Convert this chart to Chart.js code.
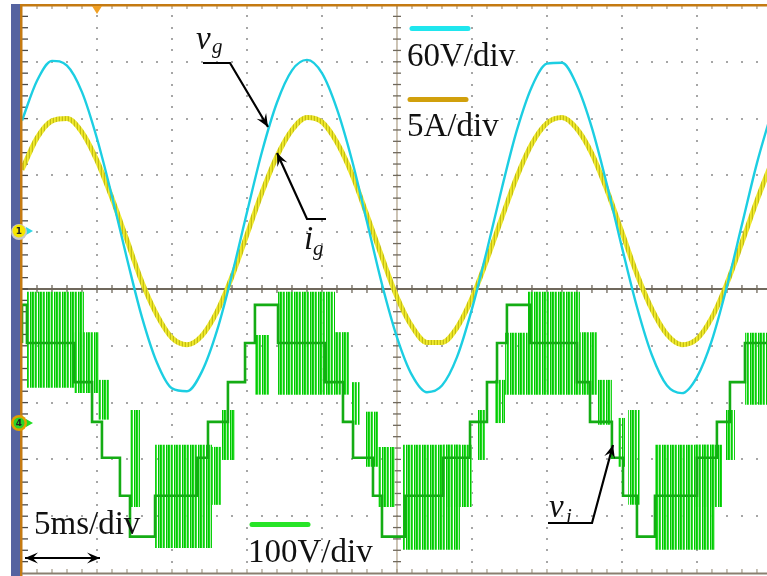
<!DOCTYPE html>
<html><head><meta charset="utf-8">
<script src="https://cdn.jsdelivr.net/npm/chart.js@4.4.1/dist/chart.umd.min.js"></script>
<style>
html,body{margin:0;padding:0;background:#fff;}
#wrap{position:relative;width:767px;height:576px;overflow:hidden;background:#fff;}
canvas{position:absolute;left:0;top:0;}
.lbl{position:absolute;font-family:"Liberation Serif","DejaVu Serif",serif;font-size:33px;line-height:33px;color:#111;white-space:nowrap;z-index:2;}
.m{font-style:italic;}
.sub{position:absolute;font-family:"Liberation Serif","DejaVu Serif",serif;font-style:italic;font-size:21px;line-height:21px;color:#111;z-index:2;}
.mk{position:absolute;font-family:"DejaVu Sans",sans-serif;font-size:9px;line-height:10px;font-weight:bold;color:#222;z-index:2;width:10px;text-align:center;}
</style></head><body>
<div id="wrap">
<canvas id="c" width="767" height="576"></canvas>
<div class="lbl" style="left:407px;top:39px">60V/div</div>
<div class="lbl" style="left:407px;top:109px">5A/div</div>
<div class="lbl" style="left:34px;top:507px">5ms/div</div>
<div class="lbl" style="left:248px;top:535px">100V/div</div>
<div class="lbl m" style="left:196px;top:22px">v</div><div class="sub" style="left:212px;top:36px">g</div>
<div class="lbl m" style="left:304px;top:222px">i</div><div class="sub" style="left:313px;top:238px">g</div>
<div class="lbl m" style="left:549px;top:490px">v</div><div class="sub" style="left:566px;top:506px">i</div>
<div class="mk" style="left:14px;top:226px">1</div>
<div class="mk" style="left:14px;top:418px">4</div>
</div>
<script>
// ---- data ----
// time axis (ms), 5 ms/div
const timeMs = [0,1,2,3,4,5,6,7,8,9,10,11,12,13,14,15,16,17,18,19,20,21,22,23,24,25,26,27,28,29,30,31,32,33,34,35,36,37,38,39,40,41,42,43,44,45,46,47,48,49,50];
// grid voltage v_g (V), 60 V/div
const gridVoltage = [112,154,175,170,142,93,32,-34,-96,-144,-171,-174,-153,-110,-51,15,79,131,165,176,162,124,70,5,-61,-117,-157,-175,-168,-138,-87,-25,41,102,148,172,173,149,104,44,-22,-85,-136,-168,-176,-159,-120,-63,2,67,122];
// grid current i_g (A), 5 A/div
const gridCurrent = [5.4,8.2,9.7,9.9,8.7,6.2,2.9,-0.8,-4.5,-7.4,-9.4,-10.0,-9.2,-7.1,-4.0,-0.3,3.4,6.6,8.9,10.0,9.6,7.8,5.0,1.4,-2.3,-5.8,-8.4,-9.8,-9.8,-8.5,-5.9,-2.5,1.2,4.8,7.7,9.5,10.0,9.0,6.8,3.6,-0.1,-3.8,-6.9,-9.1,-10.0,-9.5,-7.6,-4.6,-1.0,2.7,6.1];
// inverter output v_i (V), 100 V/div : voltage levels -3..+3
const inverterLevels = [-202,-130,-63,0,70,139,206];
const stepTimes = [0,0.33,3.47,4.67,5.33,6.53,7.2,8.87,11.67,12.4,13.73,14.87,15.53,17.07,20.2,21.4,22.07,23.4,24.0,25.53,28.07,29.87,31.0,31.67,32.33,33.87,37.0,37.87,39.33,40.07,41.0,42.2,45.0,46.33,47.2,48.2,48.73];
const stepLevel = [2,3,2,1,0,-1,-2,-3,-2,-1,0,1,2,3,2,1,0,-1,-2,-3,-2,-1,0,1,2,3,2,1,0,-1,-2,-3,-2,-1,0,1,2];
const traceEnd = 49.67;
// PWM switching envelopes (ms, V)
const pwmStart = [0.33,3.47,5.07,7.2,8.87,12.33,13.33,15.53,17.07,20.87,22.0,22.87,23.73,25.4,28.07,30.33,31.53,32.2,33.73,37.2,38.33,39.73,40.4,42.2,44.87,46.87,48.2];
const pwmEnd   = [4.13,5.13,5.87,7.87,12.67,13.33,14.2,16.53,20.87,21.87,22.53,23.73,24.87,29.2,30.0,30.87,32.2,33.73,37.2,38.33,39.33,40.2,41.2,46.2,46.67,47.53,49.67];
const pwmHigh  = [229,158,74,21,-40,-44,21,153,229,158,70,18,-44,-40,-40,21,74,157,229,158,74,7,21,-40,-40,21,157];
const pwmLow   = [60,51,4,-150,-222,-146,-67,48,48,48,-5,-79,-150,-225,-150,-67,-2,48,48,48,-5,-79,-146,-225,-150,-67,30];

// ---- build ----
function stripePattern(cols){
  const c=document.createElement('canvas'); c.width=cols.length; c.height=1;
  const g=c.getContext('2d');
  cols.forEach((col,i)=>{ if(col){g.fillStyle=col; g.fillRect(i,0,1,1);} });
  return document.getElementById('c').getContext('2d').createPattern(c,'repeat');
}
const pwmPattern = stripePattern(['rgb(0,204,0)','rgb(30,214,30)','rgba(150,236,150,0.8)','rgb(10,208,10)','rgb(60,222,60)',null,'rgb(0,198,0)','rgba(100,228,100,0.9)']);
const yellowPattern = stripePattern(['#f0ea30','#e6e022','#c4be14']);

const vgData = timeMs.map((t,i)=>({x:t,y:gridVoltage[i]}));
const igData = timeMs.map((t,i)=>({x:t,y:gridCurrent[i]}));
const viData = stepTimes.map((t,i)=>({x:t,y:inverterLevels[stepLevel[i]+3]}));
viData.push({x:traceEnd,y:inverterLevels[stepLevel[stepLevel.length-1]+3]});

const datasets = [
  {data:vgData,yAxisID:'yV',borderColor:'rgb(28,206,226)',borderWidth:2.4,pointRadius:0,cubicInterpolationMode:'monotone',order:0},
  {data:igData,yAxisID:'yI',borderColor:yellowPattern,borderWidth:5,pointRadius:0,cubicInterpolationMode:'monotone',order:1},
  {data:viData,yAxisID:'yVi',borderColor:'rgb(20,172,20)',borderWidth:2.6,pointRadius:0,stepped:'after',order:2}
];
pwmStart.forEach((s,i)=>{
  datasets.push({data:[{x:s,y:pwmHigh[i]},{x:pwmEnd[i],y:pwmHigh[i]}],yAxisID:'yVi',
    fill:{value:pwmLow[i]},backgroundColor:pwmPattern,borderWidth:0,pointRadius:0,order:3});
});

function arrow(ctx,pts,both){
  ctx.beginPath(); ctx.moveTo(pts[0][0],pts[0][1]);
  for(let i=1;i<pts.length;i++) ctx.lineTo(pts[i][0],pts[i][1]);
  ctx.stroke();
  const heads=[[pts[pts.length-2],pts[pts.length-1]]];
  if(both) heads.push([pts[1],pts[0]]);
  heads.forEach(([a,b])=>{
    const ang=Math.atan2(b[1]-a[1],b[0]-a[0]), L=13, W=5.5;
    ctx.beginPath(); ctx.moveTo(b[0],b[1]);
    ctx.lineTo(b[0]-L*Math.cos(ang)+W*Math.sin(ang), b[1]-L*Math.sin(ang)-W*Math.cos(ang));
    ctx.lineTo(b[0]-0.6*L*Math.cos(ang), b[1]-0.6*L*Math.sin(ang));
    ctx.lineTo(b[0]-L*Math.cos(ang)-W*Math.sin(ang), b[1]-L*Math.sin(ang)+W*Math.cos(ang));
    ctx.closePath(); ctx.fill();
  });
}

const scopePlugin = {
  id:'scope',
  beforeDatasetsDraw(chart){
    const ctx=chart.ctx, a=chart.chartArea, xs=chart.scales.x, yd=chart.scales.yDiv;
    ctx.save();
    // dotted graticule
    ctx.fillStyle='#a6a6a6';
    for(let i=1;i<10;i++){ if(i===5) continue; const px=xs.getPixelForValue(i*5);
      for(let k=-24;k<=24;k++){ const py=yd.getPixelForValue(k/5); ctx.fillRect(Math.round(px)-1,Math.round(py)-1,2,2);} }
    for(let j=-4;j<=4;j++){ if(j===0) continue; const py=yd.getPixelForValue(j);
      for(let k=1;k<50;k++){ const px=xs.getPixelForValue(k); ctx.fillRect(Math.round(px)-1,Math.round(py)-1,2,2);} }
    // centre axes
    const cy=yd.getPixelForValue(0), cx=xs.getPixelForValue(25);
    ctx.strokeStyle='#bdb19c'; ctx.lineWidth=1.5;
    ctx.beginPath(); ctx.moveTo(cx,a.top); ctx.lineTo(cx,a.bottom); ctx.stroke();
    ctx.strokeStyle='#6f685c'; ctx.lineWidth=2;
    ctx.beginPath(); ctx.moveTo(a.left,cy); ctx.lineTo(a.right,cy); ctx.stroke();
    ctx.strokeStyle='#6f685c'; ctx.lineWidth=1.3;
    for(let k=1;k<50;k++){ const px=xs.getPixelForValue(k); ctx.beginPath(); ctx.moveTo(px,cy-4); ctx.lineTo(px,cy+4); ctx.stroke(); }
    for(let k=-24;k<=24;k++){ const py=yd.getPixelForValue(k/5); ctx.beginPath(); ctx.moveTo(cx-4,py); ctx.lineTo(cx+4,py); ctx.stroke(); }
    // top / bottom ticks
    ctx.strokeStyle='#a49a86'; ctx.lineWidth=1.2;
    for(let k=1;k<50;k++){ const px=xs.getPixelForValue(k);
      ctx.beginPath(); ctx.moveTo(px,a.top); ctx.lineTo(px,a.top+4); ctx.stroke();
      ctx.beginPath(); ctx.moveTo(px,a.bottom); ctx.lineTo(px,a.bottom-4); ctx.stroke(); }
    // left ticks
    ctx.strokeStyle='#4a4a4a'; ctx.lineWidth=1.3;
    for(let k=-24;k<=24;k++){ const py=yd.getPixelForValue(k/5); ctx.beginPath(); ctx.moveTo(a.left,py); ctx.lineTo(a.left+6,py); ctx.stroke(); }
    ctx.restore();
  },
  afterDatasetsDraw(chart){
    const ctx=chart.ctx, a=chart.chartArea, xs=chart.scales.x;
    ctx.save();
    // frame
    ctx.fillStyle='#5563a0'; ctx.fillRect(11,4,9,576);
    ctx.fillStyle='#c47a12'; ctx.fillRect(20,4,767,2.5); ctx.fillRect(20,4,2.5,576);
    ctx.fillStyle='#8a8070'; ctx.fillRect(22,a.bottom-0.5,767,2);
    // trigger marker
    const tx=xs.getPixelForValue(5);
    ctx.fillStyle='#f0a024'; ctx.beginPath(); ctx.moveTo(tx-5,6); ctx.lineTo(tx+5,6); ctx.lineTo(tx,14); ctx.closePath(); ctx.fill();
    // channel markers
    ctx.fillStyle='#2fd6e4'; ctx.beginPath(); ctx.moveTo(26,227); ctx.lineTo(33,231); ctx.lineTo(26,235); ctx.closePath(); ctx.fill();
    ctx.fillStyle='#c8c8c8'; ctx.beginPath(); ctx.arc(19,232,8,0,Math.PI*2); ctx.fill();
    ctx.fillStyle='#f6e600'; ctx.beginPath(); ctx.arc(19,231,6.5,0,Math.PI*2); ctx.fill();
    ctx.fillStyle='#22dd22'; ctx.beginPath(); ctx.moveTo(26,419); ctx.lineTo(33,423); ctx.lineTo(26,427); ctx.closePath(); ctx.fill();
    ctx.fillStyle='#e0a000'; ctx.beginPath(); ctx.arc(19,423,8,0,Math.PI*2); ctx.fill();
    ctx.fillStyle='#2ad42a'; ctx.beginPath(); ctx.arc(19,423,5.5,0,Math.PI*2); ctx.fill();
    // legend bars
    ctx.lineCap='round'; ctx.lineWidth=5;
    ctx.strokeStyle='#1fe6ee'; ctx.beginPath(); ctx.moveTo(412,28.5); ctx.lineTo(468,28.5); ctx.stroke();
    ctx.strokeStyle='#d1a00c'; ctx.beginPath(); ctx.moveTo(410,99.5); ctx.lineTo(466,99.5); ctx.stroke();
    ctx.strokeStyle='#27e427'; ctx.beginPath(); ctx.moveTo(252,524.5); ctx.lineTo(308,524.5); ctx.stroke();
    // annotation leaders
    ctx.lineCap='butt'; ctx.lineJoin='miter'; ctx.strokeStyle='#000'; ctx.fillStyle='#000'; ctx.lineWidth=2.2;
    arrow(ctx,[[203,63],[230,63],[268,127]]);
    arrow(ctx,[[326,219],[307,219],[277,153]]);
    arrow(ctx,[[548,523],[592,523],[613,445]]);
    arrow(ctx,[[25,558],[100,558]],true);
    ctx.restore();
  }
};

new Chart(document.getElementById('c'),{
  type:'line',
  data:{datasets},
  options:{
    responsive:false, animation:false, devicePixelRatio:1, events:[],
    layout:{padding:{left:22,top:5,right:0,bottom:3}},
    plugins:{legend:{display:false},tooltip:{enabled:false},title:{display:false}},
    scales:{
      x:{type:'linear',min:0,max:traceEnd,display:false},
      yDiv:{min:-5,max:5,display:false},
      yV:{min:-366,max:234,display:false},
      yI:{min:-30.1,max:19.9,display:false},
      yVi:{min:-266,max:734,display:false}
    }
  },
  plugins:[scopePlugin]
});
</script>
</body></html>
